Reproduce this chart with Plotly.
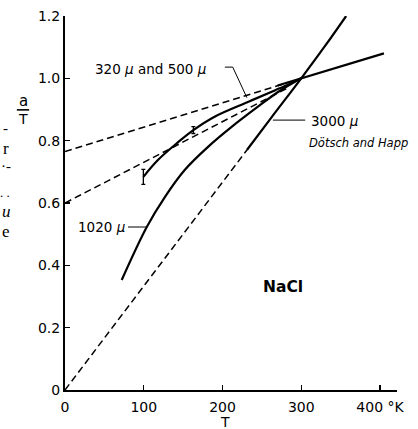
import plotly.graph_objects as go

# ---- data ----
T_320 = [99.5, 118, 144, 163, 190, 233, 267, 285, 300]
a_320 = [0.684, 0.738, 0.796, 0.834, 0.877, 0.925, 0.962, 0.982, 1.0]

T_1020 = [72, 104, 127, 152, 182, 212, 245, 271, 300]
a_1020 = [0.353, 0.524, 0.620, 0.706, 0.781, 0.845, 0.909, 0.957, 1.0]

T_3000 = [231, 262, 300, 330, 357]
a_3000 = [0.77, 0.874, 1.0, 1.103, 1.2]

T_flat = [270, 300, 405]
a_flat = [0.977, 1.0, 1.08]

T_dash_upper = [0, 285]
a_dash_upper = [0.765, 0.988]
T_dash_lower = [0, 285]
a_dash_lower = [0.60, 0.972]
T_dash_origin = [0, 231]
a_dash_origin = [0.0, 0.77]

err_T = [99.5, 163]
err_a = [0.684, 0.834]
err_half = [0.024, 0.011]

x_tickvals = [0, 100, 200, 300, 400]
x_ticktext = ["0", "100", "200", "300", "400 °K"]
y_tickvals = [0, 0.2, 0.4, 0.6, 0.8, 1.0, 1.2]
y_ticktext = ["0", "0.2", "0.4", "0.6", "0.8", "1.0", "1.2"]

FONT = "DejaVu Sans"
SOLID_W = 2.2
DASH_W = 1.5
DASH = "7px,4px"

fig = go.Figure()

def line(x, y, width, dash="solid", shape="linear"):
    fig.add_trace(go.Scatter(x=x, y=y, mode="lines",
                             line=dict(color="black", width=width, dash=dash,
                                       shape=shape, smoothing=1.0),
                             hoverinfo="skip", showlegend=False))

line(T_dash_upper, a_dash_upper, DASH_W, DASH)
line(T_dash_lower, a_dash_lower, DASH_W, DASH)
line(T_dash_origin, a_dash_origin, DASH_W, DASH)
line(T_320, a_320, SOLID_W, shape="spline")
line(T_1020, a_1020, SOLID_W, shape="spline")
line(T_3000, a_3000, SOLID_W, shape="spline")
line(T_flat, a_flat, SOLID_W)

fig.add_trace(go.Scatter(x=err_T, y=err_a, mode="markers",
                         marker=dict(size=1, color="black"),
                         error_y=dict(type="data", array=err_half, visible=True,
                                      color="black", thickness=1.3, width=2),
                         hoverinfo="skip", showlegend=False))

# leader lines
line([203, 213, 231], [1.036, 1.036, 0.938], 1.0)
line([264, 305], [0.866, 0.866], 1.0)
line([80, 104], [0.523, 0.523], 1.0)

ann = []
def text(x, y, s, size=14, xanchor="left", xref="x", yref="y", family=FONT, **kw):
    ann.append(dict(x=x, y=y, xref=xref, yref=yref, text=s, showarrow=False,
                    xanchor=xanchor, yanchor="middle",
                    font=dict(family=family, size=size, color="black"), **kw))

text(35.6, 1.03, "320 <i>μ</i> and 500 <i>μ</i>", 13.5)
text(310, 0.863, "3000 <i>μ</i>", 13.5)
text(307, 0.792, "<i>Dötsch and Happ</i>", 11.5)
text(14, 0.523, "1020 <i>μ</i>", 13.5)
text(277, 0.33, "<b>NaCl</b>", 15.5, xanchor="center")
text(0.482, -0.086, "T", 14, xanchor="center", xref="paper", yref="paper")
text(-0.1265, 0.772, "a", 15, xanchor="center", xref="paper", yref="paper")
text(-0.1265, 0.724, "T", 14, xanchor="center", xref="paper", yref="paper")

# fragments of the neighbouring column at the left edge
SERIF = "Liberation Serif"
text(-0.178, 0.701, "-", 15, xanchor="center", xref="paper", yref="paper", family=SERIF)
text(-0.178, 0.647, "r", 17, xanchor="center", xref="paper", yref="paper", family=SERIF)
text(-0.178, 0.599, "·-", 15, xanchor="center", xref="paper", yref="paper", family=SERIF)
text(-0.180, 0.527, ". .", 13, xanchor="center", xref="paper", yref="paper", family=SERIF)
text(-0.175, 0.478, "<i>u</i>", 17, xanchor="center", xref="paper", yref="paper", family=SERIF)
text(-0.178, 0.425, "e", 17, xanchor="center", xref="paper", yref="paper", family=SERIF)

fig.update_layout(
    width=418, height=429,
    margin=dict(l=65, r=21, t=16, b=39, autoexpand=False),
    paper_bgcolor="white", plot_bgcolor="white",
    annotations=ann,
    shapes=[dict(type="line", xref="paper", yref="paper",
                 x0=-0.145, x1=-0.108, y0=0.749, y1=0.749,
                 line=dict(color="black", width=1.6))],
    xaxis=dict(range=[0, 421.6], showgrid=False, zeroline=False,
               showline=True, linecolor="black", linewidth=2,
               ticks="inside", ticklen=5, tickwidth=1.3, tickcolor="black",
               tickvals=x_tickvals, ticktext=x_ticktext,
               tickfont=dict(family=FONT, size=14, color="black"),
               ticklabelstandoff=3, automargin=False, fixedrange=True),
    yaxis=dict(range=[0, 1.2], showgrid=False, zeroline=False,
               showline=True, linecolor="black", linewidth=2,
               ticks="inside", ticklen=5, tickwidth=1.3, tickcolor="black",
               tickvals=y_tickvals, ticktext=y_ticktext,
               tickfont=dict(family=FONT, size=14, color="black"),
               ticklabelstandoff=0, automargin=False, fixedrange=True),
)

fig.write_html("out.html",
               config={"displayModeBar": False, "staticPlot": True},
               post_script="document.body.style.margin='0px';"
                           "document.body.style.overflow='hidden';")
